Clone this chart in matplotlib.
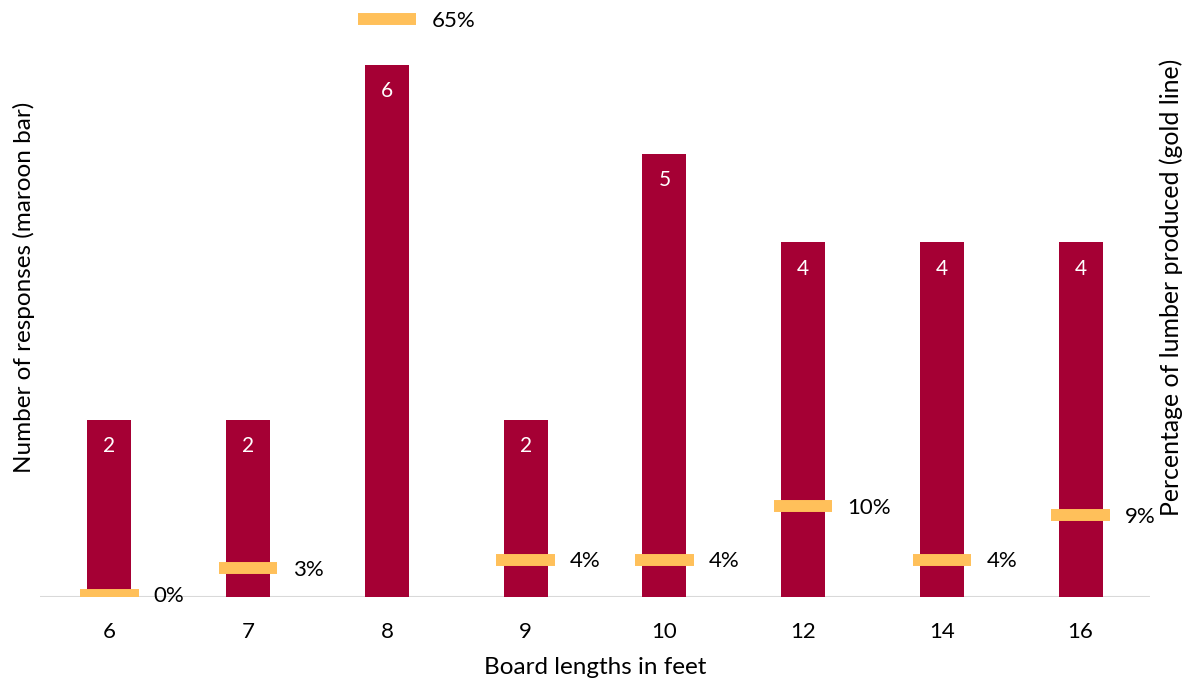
import matplotlib
matplotlib.use("Agg")
import matplotlib.pyplot as plt
import numpy as np

# Board lengths, survey responses and share of lumber produced
lengths = ["6", "7", "8", "9", "10", "12", "14", "16"]
responses = [2, 2, 6, 2, 5, 4, 4, 4]
lumber_pct = [0, 3, 65, 4, 4, 10, 4, 9]

MAROON = "#A50034"
GOLD = "#FFC05A"
FONT = "Lato"

plt.rcParams["font.family"] = [FONT, "DejaVu Sans"]

fig = plt.figure(figsize=(11.85, 6.79), dpi=100)
ax = fig.add_axes([40 / 1185, 82 / 679, 1110 / 1185, 594 / 679])
ax2 = ax.twinx()

x = np.arange(len(lengths))

ax.bar(x, responses, width=0.318, color=MAROON, zorder=2)
for xi, v in zip(x, responses):
    ax.annotate(str(v), (xi, v), xytext=(0, -19), textcoords="offset points",
                ha="center", va="center", color="white", fontsize=15)

ax.axhline(0, color="#D9D9D9", lw=1.5, zorder=1)
ax.set_xlim(-0.5, 7.5)
ax.set_ylim(0, 594 / 88.67)
ax.set_yticks([])
ax.set_xticks(x)
ax.set_xticklabels(lengths, fontsize=16)
ax.tick_params(axis="x", length=0, pad=18)
for s in ax.spines.values():
    s.set_visible(False)

ax.set_xlabel("Board lengths in feet", fontsize=17.5, labelpad=11)
ax.set_ylabel("Number of responses (maroon bar)", fontsize=17.5, va="center")
ax.yaxis.set_label_coords(-0.0144, 0.521)

# Gold markers on the percentage axis
ax2.hlines(lumber_pct, x - 0.21, x + 0.21, colors=GOLD, lw=8.6,
           capstyle="butt", zorder=3)
for xi, p in zip(x, lumber_pct):
    ax2.annotate(f"{p}%", (xi + 0.21, p), xytext=(11, -1), textcoords="offset points",
                 ha="left", va="center", color="black", fontsize=16)
ax2.set_ylim(-2 / 8.854, 592 / 8.854)
ax2.set_yticks([])
for s in ax2.spines.values():
    s.set_visible(False)
ax2.set_ylabel("Percentage of lumber produced (gold line)", fontsize=17.9,
               rotation=90, va="center")
ax2.yaxis.set_label_coords(1.019, 0.521)

fig.savefig("out.png", dpi=100)
